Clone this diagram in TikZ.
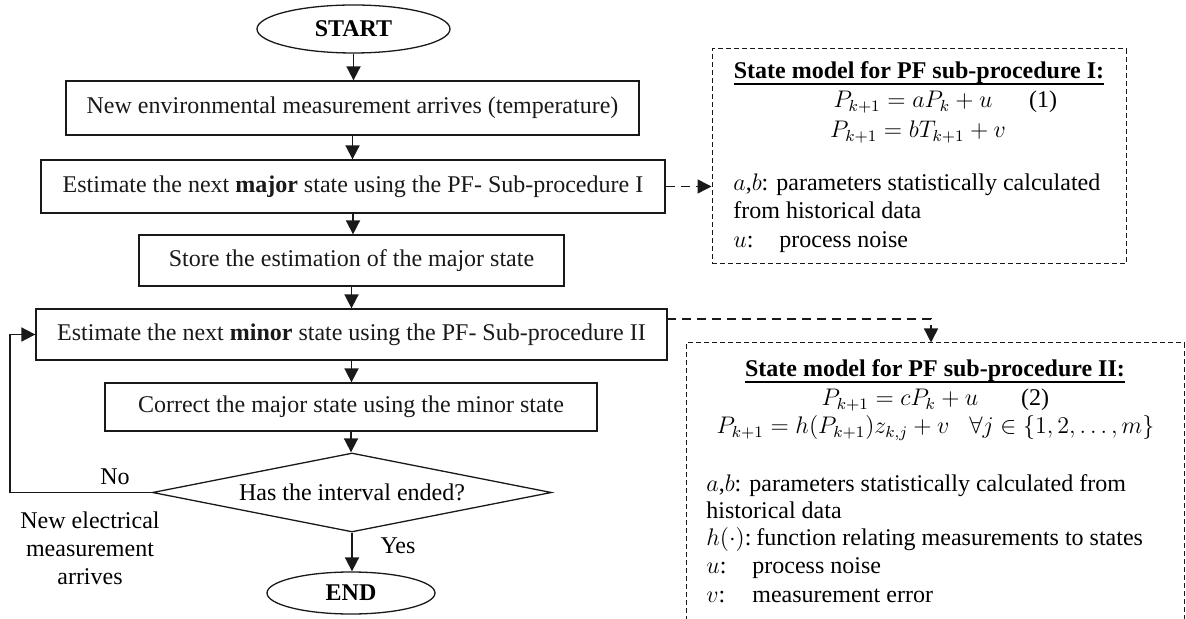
\documentclass[tikz,border=0pt]{standalone}
\usepackage{fontspec}
\setmainfont{Liberation Serif}
\usetikzlibrary{shapes.geometric,arrows.meta}

\colorlet{colorLine}{black!90}
\colorlet{colorText}{black!90}
\newcommand{\basefont}{\fontsize{12}{14}\selectfont}
\tikzset{
   every path/.style={>={Triangle[length=7pt,width=7pt]}},
   flow/.style={->,color=colorLine,line width=0.9pt},
   link/.style={->,color=colorLine,line width=0.7pt,dash pattern=on 4.5pt off 3pt},
   procbox/.style={draw=colorLine,line width=0.65pt,rectangle,inner sep=0pt,text=colorText},
   termnode/.style={draw=colorLine,line width=0.65pt,ellipse,inner sep=0pt,font=\basefont\bfseries},
   decision/.style={draw=colorLine,line width=0.65pt,diamond,shape aspect=5,inner sep=0pt},
   modelbox/.style={draw=colorLine,line width=0.5pt,dash pattern=on 2.5pt off 1.5pt,inner sep=0pt},
   headline/.style={font=\basefont\bfseries},
   legend/.style={anchor=base west,inner sep=0pt},
 }
\newcommand{\dflow}[2]{\draw[flow] (#1.south) -- (#1.south |- #2.north)}
\newcommand{\tabw}[1]{\makebox[23pt][l]{#1}}
\newcommand{\ulhead}[1]{\setbox0\hbox{#1}\rlap{\rule[-3.3pt]{\wd0}{1pt}}\box0}

\begin{document}
\begin{tikzpicture}[x=0.5pt,y=-0.5pt,font=\basefont]
      \useasboundingbox (0,0) rectangle (1186,619);

      \node[termnode,minimum width=96.5pt,minimum height=24pt] (start) at (353.5,29) {START};
      \node[procbox,minimum width=286.5pt,minimum height=27pt] (newenv) at (352.5,108)
        {New environmental measurement arrives (temperature)};
      \node[procbox,minimum width=312pt,minimum height=26.5pt] (estmajor) at (353,186.5)
        {Estimate the next \textbf{major} state using the PF- Sub-procedure I};
      \node[procbox,minimum width=212.5pt,minimum height=25.5pt] (store) at (351.5,260.5)
        {Store the estimation of the major state};
      \node[procbox,minimum width=315.5pt,minimum height=25.5pt] (estminor) at (351.5,334.5)
        {Estimate the next \textbf{minor} state using the PF- Sub-procedure II};
      \node[procbox,minimum width=246pt,minimum height=24pt] (correct) at (351,407)
        {Correct the major state using the minor state};
      \node[decision,minimum width=199.5pt,minimum height=39.5pt] (ended) at (352,492.5)
        {Has the interval ended?};
      \node[termnode,minimum width=84pt,minimum height=21pt] (finish) at (351,593) {END};

      \dflow{start}{newenv};
      \dflow{newenv}{estmajor};
      \dflow{estmajor}{store};
      \dflow{store}{estminor};
      \dflow{estminor}{correct};
      \dflow{correct}{ended};
      \dflow{ended}{finish};

      % loop back for the next electrical measurement
      \coordinate (loopx) at (10,0);
      \draw[flow] (ended.west) -- (ended.west -| loopx) |- (estminor.west);
      \node (nolbl) at (115,477) {No};
      \node[align=center] (newelec) at (90,548) {New electrical\\measurement\\arrives};
      \node (yeslbl) at (398,546) {Yes};

      % state model I
      \node[modelbox,minimum width=207pt,minimum height=107.5pt] (modelI) at (919,156.5) {};
      \draw[link] (estmajor.east) -- (estmajor.east -| modelI.west);
      \node[headline] (titleI) at (919,73) {\ulhead{State model for PF sub-procedure I:}};
      \node (eqIa) at (913,102) {$P_{k+1} = aP_k + u$};
      \node (numI) at (1043,102) {(1)};
      \node (eqIb) at (918,132) {$P_{k+1} = bT_{k+1} + v$};
      \node[legend] (abI) at (733,191) {$a$,$b$: parameters statistically calculated};
      \node[legend] (histI) at (733,219) {from historical data};
      \node[legend] (uI) at (733,248) {\tabw{$u$:}process noise};

      % state model II
      \node[modelbox,minimum width=249pt,minimum height=153.5pt] (modelII) at (935,496.5) {};
      \coordinate (tapII) at (667,319);
      \coordinate (dropII) at (931,0);
      \draw[link] (tapII) -| (modelII.north -| dropII);
      \node[headline] (titleII) at (935,371) {\ulhead{State model for PF sub-procedure II:}};
      \node (eqIIa) at (900,400) {$P_{k+1} = cP_k + u$};
      \node (numII) at (1035,400) {(2)};
      \node (eqIIb) at (935.5,428) {$P_{k+1} = h(P_{k+1})z_{k,j} + v \;\;\; \forall j \in \{1,2,\dots,m\}$};
      \node[legend] (abII) at (706,491) {$a$,$b$: parameters statistically calculated from};
      \node[legend] (histII) at (706,518) {historical data};
      \node[legend] (hII) at (706,545) {\tabw{$h(\cdot)$:}\,function relating measurements to states};
      \node[legend] (uII) at (706,573) {\tabw{$u$:}process noise};
      \node[legend] (vII) at (706,602) {\tabw{$v$:}measurement error};
    \end{tikzpicture}
\end{document}
